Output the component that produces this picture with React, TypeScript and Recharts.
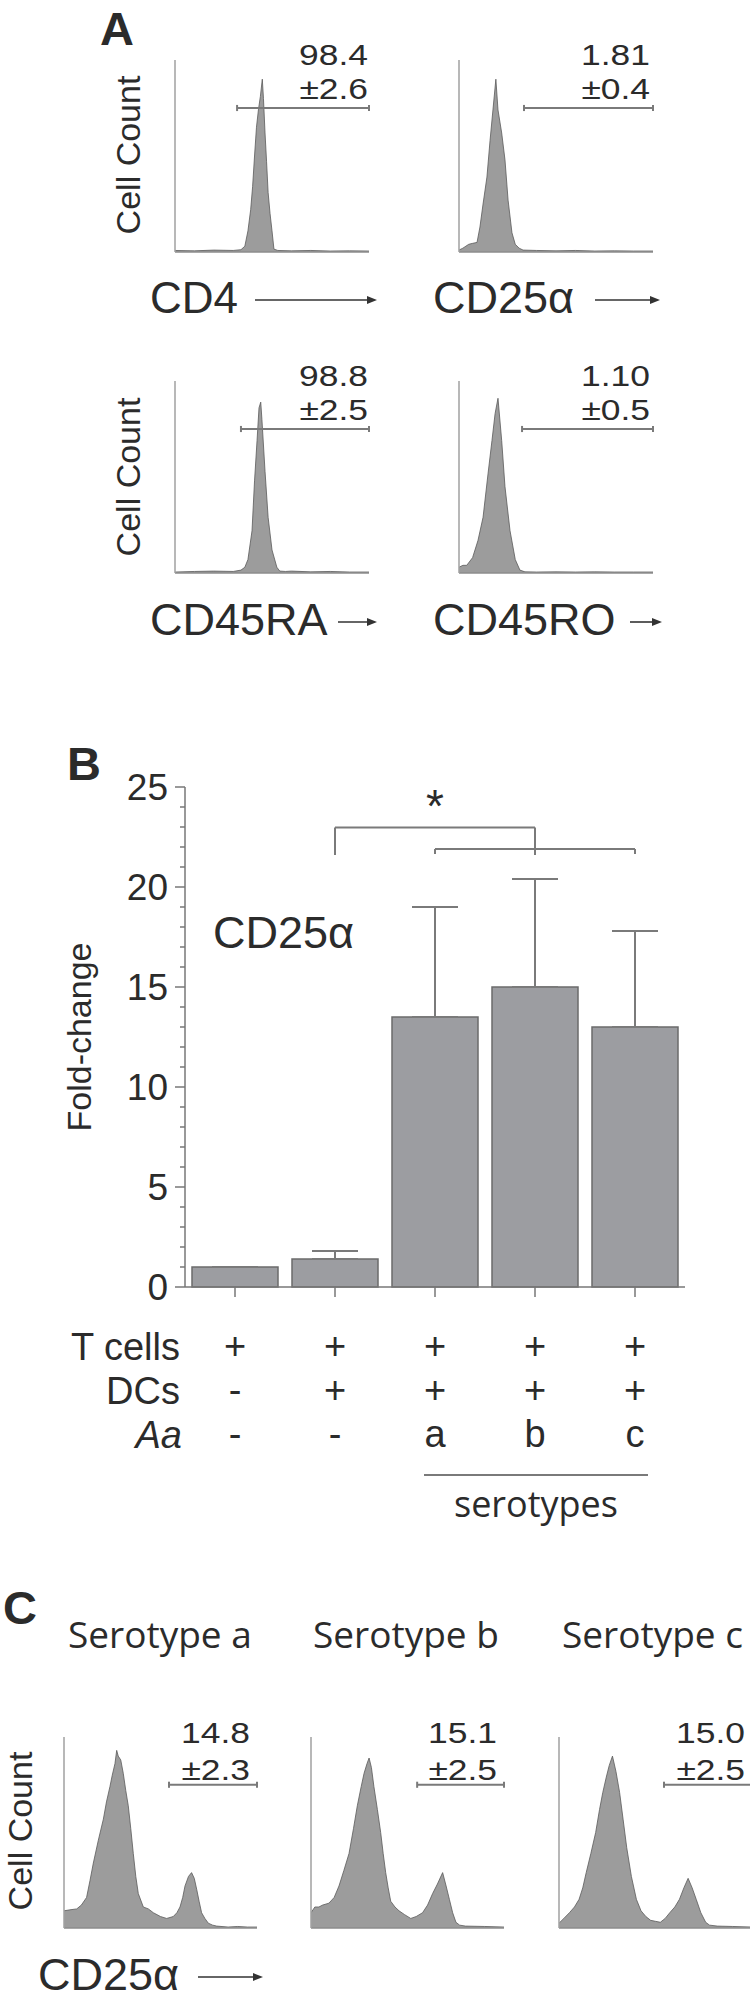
import React from "react";
import {
  AreaChart,
  Area,
  BarChart,
  Bar,
  ErrorBar,
  XAxis,
  YAxis,
  ReferenceLine,
  ReferenceDot,
} from "recharts";

const SANS = '"Liberation Sans", Arial, Helvetica, sans-serif';
const HUMANIST = '"Open Sans", "Noto Sans", sans-serif';
const INK = "#2b2b2b";
const AXIS = "#8c8c8c";
const HIST_FILL = "#9c9c9c";
const HIST_LINE = "#5a5a5a";

// Panel A histograms: channel position (0-100 along the log axis) vs relative cell count (% of axis height)
const cd4Channel = [0, 10, 20, 30, 34, 36, 37.6, 39, 40, 41, 42, 43, 44, 45, 45.6, 46.4, 47.2, 48, 49, 50, 51, 53, 60, 70, 80, 90, 100];
const cd4Count = [0.8, 0.6, 1, 0.8, 1.2, 3, 11, 22, 34, 50, 65, 74, 81, 90, 80, 62, 47, 31, 20, 11, 1.5, 0.8, 0.6, 0.8, 0.5, 0.6, 0.5];

const cd25Channel = [0, 2, 5, 7, 9.3, 10.8, 12.4, 14.4, 16, 17.5, 19, 20.1, 22, 23.7, 25.3, 27.3, 29, 31, 33, 40, 50, 60, 70, 80, 90, 100];
const cd25Count = [1, 2, 4, 4.5, 5, 13, 25, 39, 58, 74, 90, 74, 62, 48, 27, 10, 4, 2, 1, 0.8, 0.6, 0.8, 0.5, 0.6, 0.5, 0.5];

const cd45raChannel = [0, 10, 20, 30, 34, 36, 37.6, 39.7, 41, 42.3, 43.3, 44.2, 44.8, 46.4, 48, 50, 52.5, 54, 57, 60, 70, 80, 90, 100];
const cd45raCount = [0.5, 0.8, 1, 0.8, 1.5, 3, 7, 22, 48, 69, 86, 89, 80, 53, 29, 12, 3, 1, 0.8, 1, 0.6, 0.8, 0.5, 0.5];

const cd45roChannel = [0, 2, 4, 7, 9.8, 12.4, 15, 17, 18.6, 20.1, 22, 23.7, 26.3, 29, 31.4, 34, 40, 50, 60, 70, 80, 90, 100];
const cd45roCount = [3, 4, 4, 8, 17, 29, 52, 69, 83, 91, 69, 45, 22, 7, 1.5, 0.6, 0.5, 0.6, 0.5, 0.6, 0.5, 0.5, 0.5];

// Panel C histograms (CD25a after stimulation with each serotype)
const seroAChannel = [0, 3, 6.6, 9, 11.7, 13.5, 15.2, 17.8, 20.4, 22, 23.8, 25, 26.4, 27.3, 28.1, 29.4, 30.7, 32, 33.3, 34.6, 35.9, 37.2, 38.5, 41.1, 43.7, 46.3, 50, 53.2, 56.6, 58.5, 60.1, 61.5, 62.7, 64.5, 66.1, 67.5, 68.8, 70, 71.3, 73, 74.8, 77, 79.1, 85, 90, 95, 100];
const seroACount = [9, 9.5, 10, 12, 16, 25, 34, 46, 57, 66, 74, 80, 86, 93, 90, 88, 81, 72, 64, 52, 39, 27, 18, 11, 10, 8, 6, 5, 6, 8, 11, 16, 22, 27, 29, 26, 20, 14, 8, 5, 2.5, 1.5, 1, 0.5, 0.8, 0.5, 0.5];

const seroBChannel = [0, 2, 4.1, 6, 9.3, 12, 14.5, 17, 19.7, 22, 24, 26, 27.5, 29, 30.1, 31.3, 32.6, 34.4, 36.1, 37.4, 38.7, 40, 41.3, 43.5, 45.6, 48.5, 51.7, 54.5, 57.8, 60.4, 63, 65.5, 68.2, 70, 71.7, 73.4, 75.1, 77, 80, 90, 100];
const seroBCount = [8, 11, 11, 12, 13, 16, 22, 30, 39, 52, 64, 74, 81, 86, 89, 84, 74, 62, 50, 39, 29, 21, 14, 11, 9, 7, 5, 6, 8, 12, 18, 23, 29, 22, 15, 8, 3, 1.5, 1, 0.8, 0.5];

const seroCChannel = [0, 2.5, 5.4, 8, 10.4, 12.3, 14.1, 16.5, 19, 21, 22.7, 24.5, 26, 27.7, 29.5, 31.4, 33.2, 35.1, 37.5, 40.1, 42.5, 45, 47.5, 50, 52.5, 55, 57.4, 60, 62.4, 64.7, 66.9, 69, 71.1, 73.5, 76, 78, 82, 90, 100];
const seroCCount = [2.5, 5, 8, 11, 15, 21, 29, 39, 50, 62, 71, 79, 85, 90, 82, 71, 57, 42, 27, 15, 9, 6, 4, 3.5, 3, 5, 8, 11, 15, 21, 26, 21, 15, 8, 3, 1.5, 1, 0.8, 0.5];

const histTicksX = [0, 10, 20, 30, 40, 50, 60, 70, 80, 90, 100];
const histTicksY = [0, 25, 50, 75, 100];

// gated percentages printed above each histogram (mean, ±SD)
const gateMeans = ["98.4", "1.81", "98.8", "1.10", "14.8", "15.1", "15.0"];
const gateSDs = ["±2.6", "±0.4", "±2.5", "±0.5", "±2.3", "±2.5", "±2.5"];

// Panel B: CD25a fold-change
const groupIds = ["t", "dc", "a", "b", "c"];
const foldChange = [1.0, 1.4, 13.5, 15.0, 13.0];
const foldErr = [0, 0.4, 5.5, 5.4, 4.8];
const rowTcells = ["+", "+", "+", "+", "+"];
const rowDCs = ["-", "+", "+", "+", "+"];
const rowAa = ["-", "-", "a", "b", "c"];
const foldTicks = [0, 1, 2, 3, 4, 5, 6, 7, 8, 9, 10, 11, 12, 13, 14, 15, 16, 17, 18, 19, 20, 21, 22, 23, 24, 25];
const foldMajor = [0, 5, 10, 15, 20, 25];

type HistoProps = {
  channel: number[];
  count: number[];
  left: number;
  top: number;
  w: number;
  h: number;
  gate: number;
};

function Histo({ channel, count, left, top, w, h, gate }: HistoProps) {
  const data = channel.map((x, i) => ({ x, y: count[i] }));
  const pad = 4;
  const gateStroke = { stroke: "#7a7a7a", strokeWidth: 2 };
  return (
    <div style={{ position: "absolute", left: left - pad, top: top - pad }}>
      <AreaChart width={w + pad * 2} height={h + pad * 2} data={data} margin={{ top: pad, right: pad, left: 0, bottom: 0 }}>
        <XAxis
          dataKey="x"
          type="number"
          domain={[0, 100]}
          ticks={histTicksX}
          tick={false}
          tickSize={3}
          height={pad}
          allowDataOverflow
          axisLine={{ stroke: AXIS, strokeWidth: 1.5 }}
          tickLine={{ stroke: "#c8c8c8" }}
        />
        <YAxis
          type="number"
          domain={[0, 100]}
          ticks={histTicksY}
          tick={false}
          tickSize={3}
          width={pad}
          allowDataOverflow
          axisLine={{ stroke: "#a0a0a0", strokeWidth: 1.5 }}
          tickLine={{ stroke: "#c8c8c8" }}
        />
        <Area type="linear" dataKey="y" fill={HIST_FILL} fillOpacity={1} stroke={HIST_LINE} strokeWidth={0.8} dot={false} activeDot={false} isAnimationActive={false} />
        <ReferenceLine segment={[{ x: gate, y: 75 }, { x: 100, y: 75 }]} {...gateStroke} />
        <ReferenceLine segment={[{ x: gate, y: 73.4 }, { x: gate, y: 76.6 }]} {...gateStroke} />
        <ReferenceLine segment={[{ x: 100, y: 73.4 }, { x: 100, y: 76.6 }]} {...gateStroke} />
      </AreaChart>
    </div>
  );
}

// eslint-disable-next-line @typescript-eslint/no-explicit-any
const FoldTick = (props: any) => {
  const { x, y, payload } = props;
  const major = foldMajor.includes(payload.value);
  return (
    <g>
      <line x1={x - (major ? 10 : 5)} x2={x} y1={y} y2={y} stroke="#777" strokeWidth={1.5} />
      {major && (
        <text x={x - 17} y={y + 13} textAnchor="end" fontSize={37} fontFamily={SANS} fill={INK}>
          {payload.value}
        </text>
      )}
    </g>
  );
};

// eslint-disable-next-line @typescript-eslint/no-explicit-any
const ConditionTick = (props: any) => {
  const { x, y, index } = props;
  const st = { textAnchor: "middle" as const, fontSize: 38, fontFamily: SANS, fill: INK };
  return (
    <g>
      <text x={x} y={y + 62} {...st}>{rowTcells[index]}</text>
      <text x={x} y={y + 106} {...st}>{rowDCs[index]}</text>
      <text x={x} y={y + 150} {...st}>{rowAa[index]}</text>
    </g>
  );
};

// eslint-disable-next-line @typescript-eslint/no-explicit-any
const Asterisk = (props: any) => (
  <text x={props.cx} y={props.cy + 25} textAnchor="middle" fontSize={46} fontFamily={SANS} fill={INK}>
    *
  </text>
);

function Arrow({ x1, x2, y }: { x1: number; x2: number; y: number }) {
  return (
    <g>
      <line x1={x1} x2={x2 - 6} y1={y} y2={y} stroke="#333" strokeWidth={1.6} />
      <polygon points={`${x2},${y} ${x2 - 10},${y - 4} ${x2 - 10},${y + 4}`} fill="#333" />
    </g>
  );
}

// numbers are set a little wider than the stock font, as in the figure
function GateText({ i, right, y1, y2 }: { i: number; right: number; y1: number; y2: number }) {
  const st = { fontFamily: SANS, fill: INK, fontSize: 30, textAnchor: "end" as const };
  return (
    <g transform={`translate(${right} 0) scale(1.18 1) translate(${-right} 0)`}>
      <text x={right} y={y1} {...st}>{gateMeans[i]}</text>
      <text x={right} y={y2} {...st}>{gateSDs[i]}</text>
    </g>
  );
}

export default function App() {
  const barData = groupIds.map((id, i) => ({ id, mean: foldChange[i], err: [0, foldErr[i]] }));
  const bracket = { stroke: "#7a7a7a", strokeWidth: 2 };
  const t = { fontFamily: SANS, fill: INK };
  const histW = 194;
  const histH = 192;
  const cTop = 1737;
  const cOffsets = [64, 311, 559];

  return (
    <div style={{ position: "absolute", left: 0, top: 0, width: 750, height: 2003, overflow: "hidden", background: "#fff" }}>
      {/* Panel A */}
      <Histo channel={cd4Channel} count={cd4Count} left={175} top={60} w={histW} h={histH} gate={32} />
      <Histo channel={cd25Channel} count={cd25Count} left={459} top={60} w={histW} h={histH} gate={33.5} />
      <Histo channel={cd45raChannel} count={cd45raCount} left={175} top={381} w={histW} h={histH} gate={34} />
      <Histo channel={cd45roChannel} count={cd45roCount} left={459} top={381} w={histW} h={histH} gate={32.5} />

      {/* Panel B */}
      <div style={{ position: "absolute", left: 100, top: 740 }}>
        <BarChart width={600} height={730} data={barData} margin={{ top: 47, right: 15, left: 0, bottom: 3 }}>
          <XAxis
            dataKey="id"
            type="category"
            height={180}
            interval={0}
            tickSize={10}
            tickMargin={0}
            axisLine={{ stroke: "#777", strokeWidth: 1.5 }}
            tickLine={{ stroke: "#777", strokeWidth: 1.5 }}
            tick={<ConditionTick />}
          />
          <YAxis
            type="number"
            domain={[0, 25]}
            ticks={foldTicks}
            interval={0}
            width={85}
            tickSize={0}
            tickMargin={0}
            tickLine={false}
            axisLine={{ stroke: "#777", strokeWidth: 1.5 }}
            tick={<FoldTick />}
          />
          <Bar dataKey="mean" barSize={86} fill="#9c9da1" stroke="#6b6b6b" strokeWidth={1.5} isAnimationActive={false}>
            <ErrorBar dataKey="err" direction="y" width={23} stroke="#7a7a7a" strokeWidth={2} />
          </Bar>
          <ReferenceLine segment={[{ x: "dc", y: 21.6 }, { x: "dc", y: 22.97 }]} {...bracket} />
          <ReferenceLine segment={[{ x: "dc", y: 22.97 }, { x: "b", y: 22.97 }]} {...bracket} />
          <ReferenceLine segment={[{ x: "b", y: 22.97 }, { x: "b", y: 21.6 }]} {...bracket} />
          <ReferenceLine segment={[{ x: "a", y: 21.65 }, { x: "a", y: 21.9 }]} {...bracket} />
          <ReferenceLine segment={[{ x: "a", y: 21.9 }, { x: "c", y: 21.9 }]} {...bracket} />
          <ReferenceLine segment={[{ x: "c", y: 21.9 }, { x: "c", y: 21.65 }]} {...bracket} />
          <ReferenceDot x="a" y={24.5} r={0} shape={Asterisk} />
        </BarChart>
      </div>

      {/* Panel C */}
      <Histo channel={seroAChannel} count={seroACount} left={cOffsets[0]} top={cTop} w={193} h={191} gate={54.4} />
      <Histo channel={seroBChannel} count={seroBCount} left={cOffsets[1]} top={cTop} w={193} h={191} gate={55} />
      <Histo channel={seroCChannel} count={seroCCount} left={cOffsets[2]} top={cTop} w={193} h={191} gate={54.4} />

      {/* labels and annotations */}
      <svg width={750} height={2003} style={{ position: "absolute", left: 0, top: 0, pointerEvents: "none" }}>
        <text x={100} y={45} fontSize={47} fontWeight="bold" {...t}>A</text>
        <text x={67} y={780} fontSize={47} fontWeight="bold" {...t}>B</text>
        <text x={3} y={1624} fontSize={47} fontWeight="bold" {...t}>C</text>

        <text x={140} y={155} fontSize={34} textAnchor="middle" transform="rotate(-90 140 155)" {...t}>Cell Count</text>
        <text x={140} y={477} fontSize={34} textAnchor="middle" transform="rotate(-90 140 477)" {...t}>Cell Count</text>
        <text x={32} y={1831} fontSize={34} textAnchor="middle" transform="rotate(-90 32 1831)" {...t}>Cell Count</text>

        <GateText i={0} right={368} y1={65} y2={99} />
        <GateText i={1} right={650} y1={65} y2={99} />
        <GateText i={2} right={368} y1={386} y2={420} />
        <GateText i={3} right={650} y1={386} y2={420} />

        <text x={150} y={313} fontSize={44} {...t}>CD4</text>
        <Arrow x1={255} x2={377} y={300} />
        <text x={433} y={313} fontSize={45} {...t}>CD25α</text>
        <Arrow x1={595} x2={660} y={300} />
        <text x={150} y={635} fontSize={45} {...t}>CD45RA</text>
        <Arrow x1={338} x2={377} y={622} />
        <text x={433} y={635} fontSize={45} {...t}>CD45RO</text>
        <Arrow x1={630} x2={662} y={622} />

        <text x={91} y={1037} fontSize={34} textAnchor="middle" transform="rotate(-90 91 1037)" {...t}>Fold-change</text>
        <text x={213} y={948} fontSize={45} {...t}>CD25α</text>
        <text x={180} y={1360} fontSize={38} textAnchor="end" {...t}>T cells</text>
        <text x={180} y={1404} fontSize={38} textAnchor="end" {...t}>DCs</text>
        <text x={182} y={1448} fontSize={38} textAnchor="end" fontStyle="italic" {...t}>Aa</text>
        <line x1={424} x2={648} y1={1475} y2={1475} stroke="#7a7a7a" strokeWidth={2} />
        <text x={536} y={1517} fontSize={36} textAnchor="middle" fontFamily={HUMANIST} fill={INK}>serotypes</text>

        <text x={68} y={1648} fontSize={37} fontFamily={HUMANIST} fill={INK}>Serotype a</text>
        <text x={313} y={1648} fontSize={37} fontFamily={HUMANIST} fill={INK}>Serotype b</text>
        <text x={562} y={1648} fontSize={37} fontFamily={HUMANIST} fill={INK}>Serotype c</text>

        <GateText i={4} right={cOffsets[0] + 186} y1={1743} y2={1780} />
        <GateText i={5} right={cOffsets[1] + 186} y1={1743} y2={1780} />
        <GateText i={6} right={cOffsets[2] + 186} y1={1743} y2={1780} />

        <text x={38} y={1990} fontSize={45} {...t}>CD25α</text>
        <Arrow x1={198} x2={263} y={1977} />
      </svg>
    </div>
  );
}
